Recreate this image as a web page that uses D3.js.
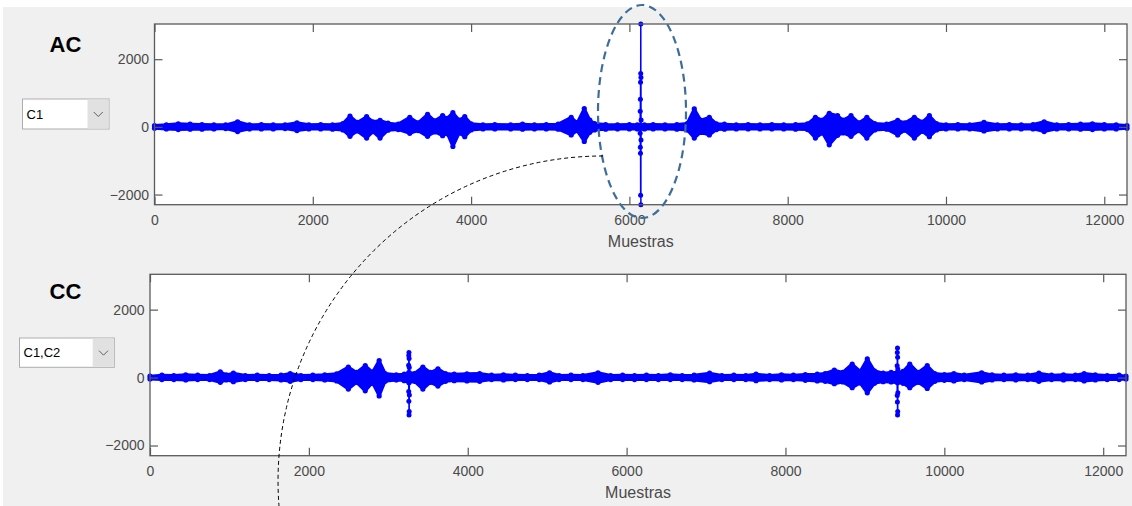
<!DOCTYPE html>
<html>
<head>
<meta charset="utf-8">
<script src="https://cdn.jsdelivr.net/npm/d3@7"></script>
<style>
    body { margin: 0; background: #fff; }
    svg { display: block; font-family: "Liberation Sans", Arial, sans-serif; }
</style>
</head>
<body>
<svg id="fig" width="1132" height="506"></svg>
<script>

// ---- data ----
var sampleCount = 12287;
var yLimits = [-2300, 3040];
var xTicks = [0, 2000, 4000, 6000, 8000, 10000, 12000];
var yTicks = [-2000, 0, 2000];
var xLabel = 'Muestras';

// [sample, upper, lower] envelope of the AC trace
var acEnvelope = [
    [0, 40, -40], [150, 60, -60], [300, 90, -80], [450, 80, -70], [600, 70, -70],
    [750, 60, -60], [900, 60, -50], [1050, 150, -140], [1200, 60, -60], [1350, 70, -60],
    [1500, 60, -60], [1650, 60, -50], [1800, 120, -110], [1950, 60, -60], [2100, 70, -60],
    [2250, 60, -70], [2380, 100, -90], [2470, 320, -280], [2560, 130, -120], [2680, 300, -330],
    [2760, 150, -140], [2850, 190, -330], [2950, 110, -100], [3080, 80, -80], [3225, 280, -190],
    [3330, 120, -110], [3450, 370, -280], [3540, 180, -150], [3640, 330, -260], [3700, 250, -200],
    [3770, 420, -580], [3850, 200, -180], [3920, 300, -290], [4000, 90, -90], [4150, 60, -60],
    [4300, 70, -60], [4500, 60, -60], [4650, 80, -70], [4800, 60, -60], [4950, 70, -60],
    [5100, 80, -70], [5265, 280, -240], [5340, 120, -110], [5430, 540, -430], [5500, 200, -160],
    [5560, 100, -90], [5700, 70, -70], [5850, 60, -60], [6000, 70, -60], [6100, 60, -60],
    [6190, 60, -60], [6300, 70, -60], [6450, 60, -60], [6600, 70, -70], [6730, 100, -90],
    [6820, 530, -330], [6900, 200, -160], [7010, 280, -240], [7100, 90, -80], [7200, 80, -70],
    [7350, 60, -60], [7500, 70, -60], [7650, 60, -60], [7800, 70, -60], [7950, 60, -60],
    [8100, 70, -70], [8250, 90, -80], [8350, 280, -330], [8440, 200, -180], [8525, 400, -530],
    [8630, 330, -250], [8700, 200, -180], [8800, 330, -280], [8900, 120, -110], [9000, 280, -330],
    [9100, 100, -90], [9250, 80, -70], [9390, 190, -240], [9480, 120, -100], [9600, 280, -330],
    [9700, 140, -130], [9790, 330, -290], [9880, 100, -90], [10000, 60, -60], [10150, 70, -60],
    [10300, 60, -60], [10480, 130, -120], [10650, 60, -60], [10800, 70, -60], [10950, 60, -60],
    [11100, 70, -60], [11240, 150, -140], [11400, 60, -60], [11550, 70, -60], [11700, 80, -70],
    [11850, 90, -80], [12000, 70, -60], [12150, 60, -60], [12287, 40, -40]
];

// individual samples of the zero-lag peak
var acPeak = [
    [6136, -185], [6137, 460], [6138, -600], [6139, 815], [6140, -780], [6141, 1315],
    [6142, -2020], [6143, 1580], [6144, 3040], [6145, -2300], [6146, 1460], [6147, -390], [6148, 200]
];

// [sample, upper, lower] envelope of the CC trace
var ccEnvelope = [
    [0, 40, -40], [150, 70, -60], [300, 60, -60], [450, 80, -70], [600, 70, -60],
    [750, 60, -60], [885, 170, -140], [960, 80, -70], [1050, 130, -120], [1200, 60, -60],
    [1350, 70, -60], [1500, 60, -60], [1650, 70, -70], [1765, 120, -110], [1900, 60, -60],
    [2050, 70, -60], [2200, 80, -70], [2350, 110, -100], [2497, 310, -340], [2600, 150, -140],
    [2710, 350, -390], [2800, 160, -150], [2885, 500, -540], [2960, 120, -110], [3100, 80, -70],
    [3200, 100, -90], [3260, 150, -150], [3330, 120, -110], [3435, 310, -340], [3530, 150, -140],
    [3625, 260, -250], [3720, 120, -110], [3830, 100, -90], [3990, 110, -100], [4150, 120, -110],
    [4300, 70, -60], [4450, 80, -70], [4600, 70, -60], [4750, 60, -60], [4900, 70, -60],
    [5030, 140, -130], [5150, 60, -60], [5300, 70, -60], [5450, 60, -60], [5640, 140, -140],
    [5800, 60, -60], [5950, 70, -60], [6100, 60, -60], [6250, 70, -60], [6400, 60, -60],
    [6550, 80, -60], [6700, 60, -60], [6850, 70, -70], [7045, 130, -120], [7200, 60, -60],
    [7350, 70, -60], [7500, 60, -60], [7630, 100, -90], [7800, 60, -60], [7950, 80, -70],
    [8100, 70, -60], [8250, 90, -80], [8400, 100, -100], [8500, 120, -110], [8615, 220, -180],
    [8720, 150, -130], [8840, 400, -300], [8940, 180, -160], [9030, 550, -450], [9120, 200, -170],
    [9230, 130, -120], [9330, 150, -130], [9410, 160, -150], [9480, 180, -170], [9565, 400, -300],
    [9670, 150, -140], [9785, 350, -320], [9880, 120, -110], [10000, 90, -80], [10120, 120, -100],
    [10250, 70, -60], [10470, 140, -130], [10600, 80, -70], [10750, 70, -60], [10900, 80, -70],
    [11050, 70, -60], [11190, 130, -110], [11350, 70, -60], [11500, 80, -70], [11650, 70, -60],
    [11760, 120, -100], [11900, 80, -70], [12050, 60, -60], [12200, 70, -60], [12287, 40, -40]
];

var ccPeakA = [
    [3256, 360], [3257, -410], [3258, 650], [3259, -700], [3260, 740],
    [3261, -1100], [3262, 560], [3263, -1000], [3264, 300], [3265, -510]
];
var ccPeakB = [
    [9406, 350], [9407, -530], [9408, 740], [9409, -720], [9410, 870],
    [9411, -1100], [9412, 600], [9413, -1000], [9414, 250], [9415, -450]
];

// ---- layout ----
var panels = [
    {
        title: 'AC', channel: 'C1',
        envelope: acEnvelope, peaks: [acPeak],
        left: 154.5, right: 1127, top: 24, bottom: 204.7,
        titleY: 52,
        menu: {x: 22.5, y: 99, w: 86.5, h: 30, arrowW: 21.5}
    },
    {
        title: 'CC', channel: 'C1,C2',
        envelope: ccEnvelope, peaks: [ccPeakA, ccPeakB],
        left: 150, right: 1126, top: 274.3, bottom: 455.7,
        titleY: 299,
        menu: {x: 19.5, y: 338, w: 94.8, h: 29.3, arrowW: 21.6}
    }
];

var svg = d3.select('#fig');

svg.append('rect')
    .attr('x', 3).attr('y', 7)
    .attr('width', 1129).attr('height', 499)
    .attr('fill', '#f0f0f0');

var blue = '#0000ff';
var axisColor = '#5a5a5a';
var labelColor = '#4a4a4a';

function drawPanel(p) {

    var x = d3.scaleLinear().domain([0, sampleCount]).range([p.left, p.right]);
    var y = d3.scaleLinear().domain(yLimits).range([p.bottom, p.top]);

    var g = svg.append('g').attr('class', 'panel');

    g.append('rect')
        .attr('x', p.left).attr('y', p.top)
        .attr('width', p.right - p.left).attr('height', p.bottom - p.top)
        .attr('fill', '#fff');

    // signal band
    var band = d3.area()
        .x(function(d) { return x(d[0]); })
        .y0(function(d) { return y(d[2]); })
        .y1(function(d) { return y(d[1]); });

    g.append('path')
        .datum(p.envelope)
        .attr('d', band)
        .attr('fill', blue)
        .attr('stroke', blue)
        .attr('stroke-width', 3)
        .attr('stroke-linejoin', 'round');

    var dots = [];
    p.envelope.forEach(function(d) {
        dots.push([d[0], d[1]]);
        dots.push([d[0], d[2]]);
    });

    g.append('g').selectAll('circle')
        .data(dots)
        .enter()
        .append('circle')
        .attr('cx', function(d) { return x(d[0]); })
        .attr('cy', function(d) { return y(d[1]); })
        .attr('r', 2.6)
        .attr('fill', blue);

    // single samples of the tall peaks
    var line = d3.line()
        .x(function(d) { return x(d[0]); })
        .y(function(d) { return y(d[1]); });

    p.peaks.forEach(function(pk) {
        g.append('path')
            .datum(pk)
            .attr('d', line)
            .attr('fill', 'none')
            .attr('stroke', blue)
            .attr('stroke-width', 1.5);

        g.append('g').selectAll('circle')
            .data(pk)
            .enter()
            .append('circle')
            .attr('cx', function(d) { return x(d[0]); })
            .attr('cy', function(d) { return y(d[1]); })
            .attr('r', 2.5)
            .attr('fill', blue);
    });

    // axes, ticks pointing inward on all four sides
    var fmt = d3.format('d');
    var axB = g.append('g')
        .attr('transform', 'translate(0,' + p.bottom + ')')
        .call(d3.axisBottom(x).tickValues(xTicks).tickFormat(fmt).tickSizeInner(-8).tickSizeOuter(0).tickPadding(10));
    var axT = g.append('g')
        .attr('transform', 'translate(0,' + p.top + ')')
        .call(d3.axisTop(x).tickValues(xTicks).tickSizeInner(-8).tickSizeOuter(0).tickFormat(''));
    var axL = g.append('g')
        .attr('transform', 'translate(' + p.left + ',0)')
        .call(d3.axisLeft(y).tickValues(yTicks).tickFormat(fmt).tickSizeInner(-8).tickSizeOuter(0).tickPadding(5.5));
    var axR = g.append('g')
        .attr('transform', 'translate(' + p.right + ',0)')
        .call(d3.axisRight(y).tickValues(yTicks).tickSizeInner(-8).tickSizeOuter(0).tickFormat(''));

    [axB, axT, axL, axR].forEach(function(ax) {
        ax.select('.domain').remove();
        ax.selectAll('line').attr('stroke', axisColor).attr('stroke-width', 1.2);
        ax.selectAll('text')
            .attr('fill', labelColor)
            .style('font-size', '14px')
            .style('font-family', '"Liberation Sans", Arial, sans-serif');
    });

    g.append('rect')
        .attr('x', p.left).attr('y', p.top)
        .attr('width', p.right - p.left).attr('height', p.bottom - p.top)
        .attr('fill', 'none')
        .attr('stroke', axisColor)
        .attr('stroke-width', 1.3);

    g.append('text')
        .attr('x', (p.left + p.right) / 2)
        .attr('y', p.bottom + 42)
        .attr('text-anchor', 'middle')
        .attr('fill', labelColor)
        .style('font-size', '16px')
        .text(xLabel);

    // panel title and channel menu
    g.append('text')
        .attr('x', 65.5)
        .attr('y', p.titleY)
        .attr('text-anchor', 'middle')
        .style('font-size', '22px')
        .style('font-weight', 'bold')
        .attr('fill', '#000')
        .text(p.title);

    var m = p.menu;
    var menu = g.append('g').attr('class', 'menu');
    menu.append('rect')
        .attr('x', m.x).attr('y', m.y).attr('width', m.w).attr('height', m.h)
        .attr('fill', '#fff').attr('stroke', '#adadad').attr('stroke-width', 1);
    menu.append('rect')
        .attr('x', m.x + m.w - m.arrowW).attr('y', m.y + 0.5)
        .attr('width', m.arrowW - 0.5).attr('height', m.h - 1)
        .attr('fill', '#e1e1e1');
    var cx = m.x + m.w - m.arrowW / 2, cy = m.y + m.h / 2;
    menu.append('path')
        .attr('d', 'M' + (cx - 4.5) + ',' + (cy - 2) + 'L' + cx + ',' + (cy + 2.5) + 'L' + (cx + 4.5) + ',' + (cy - 2))
        .attr('fill', 'none').attr('stroke', '#606060').attr('stroke-width', 1);
    menu.append('text')
        .attr('x', m.x + 4)
        .attr('y', cy + 4.5)
        .style('font-size', '13px')
        .attr('fill', '#000')
        .text(p.channel);
}

panels.forEach(drawPanel);

// annotations
svg.append('ellipse')
    .attr('cx', 642).attr('cy', 111.5)
    .attr('rx', 44).attr('ry', 106.5)
    .attr('fill', 'none')
    .attr('stroke', '#3d6e9b')
    .attr('stroke-width', 2.2)
    .attr('stroke-dasharray', '8,5');

svg.append('path')
    .attr('d', 'M603,156 A325,325 0 0 0 279,506')
    .attr('fill', 'none')
    .attr('stroke', '#000')
    .attr('stroke-width', 1)
    .attr('stroke-dasharray', '4,3');

</script>
</body>
</html>
